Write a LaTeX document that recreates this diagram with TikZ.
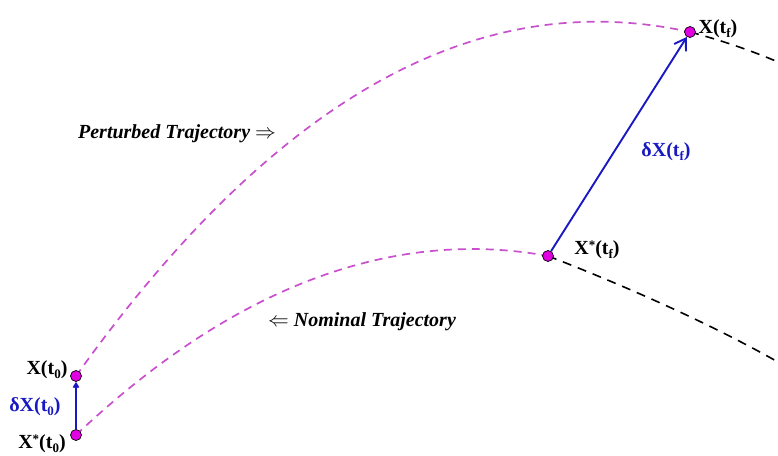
\documentclass[tikz,border=0pt]{standalone}
\usepackage{fontspec}
\setmainfont{Liberation Serif}
\usetikzlibrary{arrows.meta}
\definecolor{trajmag}{RGB}{200,80,205}
\definecolor{dotmag}{RGB}{225,0,225}
\definecolor{vecblue}{RGB}{25,25,195}
\newcommand{\mysub}[1]{\raisebox{-0.4ex}{\fontsize{13}{13}\selectfont #1}}
\newcommand{\mystar}{\raisebox{0.55ex}{\fontsize{13}{13}\selectfont *}}
\begin{document}
\begin{tikzpicture}[x=1pt,y=-1pt,
  pert/.style={draw=trajmag,line width=1.7pt,dash pattern=on 8pt off 6pt},
  cont/.style={draw=black,line width=1.6pt,dash pattern=on 9pt off 7pt},
  statedot/.style={circle,draw=black,line width=0.7pt,fill=dotmag,minimum size=11pt,inner sep=0pt},
  dvec/.style={draw=vecblue,line width=1.9pt},
  lab/.style={font=\fontsize{20}{24}\selectfont\bfseries,inner sep=0pt},
  blab/.style={lab,text=vecblue},
  tlab/.style={font=\fontsize{20}{24}\selectfont\bfseries\itshape,inner sep=0pt}]
\useasboundingbox (0,0) rectangle (778,455);
% state points
\coordinate (n0) at (76,435);
\coordinate (p0) at (76,376);
\coordinate (nf) at (548,256);
\coordinate (pf) at (690,32);
\coordinate (nend) at (778,362);
\coordinate (pend) at (778,62);
% trajectories
\draw[pert] (n0) .. controls (256,265) and (418,232) .. (nf);
\draw[cont] (nf) .. controls (610,280) and (700,318) .. (nend);
\draw[pert] (p0) .. controls (286,82) and (490,-12) .. (pf);
\draw[cont] (pf) .. controls (720,40) and (750,50) .. (pend);
% dots
\node[statedot] (N0) at (n0) {};
\node[statedot] (P0) at (p0) {};
\node[statedot] (NF) at (nf) {};
\node[statedot] (PF) at (pf) {};
% deviation vectors
\draw[dvec,-{Straight Barb[length=4pt,width=5pt]}] (N0) -- (P0);
\draw[dvec,-{Straight Barb[length=11pt,width=14pt]}] (NF) -- (PF);
% labels
\node[lab] (lpf) at (718,29) {X(t\mysub{f})};
\node[lab] (lnf) at (597,250) {X\mystar(t\mysub{f})};
\node[lab] (lp0) at (47,370) {X(t\mysub{0})};
\node[blab] (ld0) at (35,407) {δX(t\mysub{0})};
\node[lab] (ln0) at (42,444) {X\mystar(t\mysub{0})};
\node[blab] (ldf) at (666,152) {δX(t\mysub{f})};
\node[tlab] (lpert) at (177,134) {Perturbed Trajectory $\Rightarrow$};
\node[tlab] (lnom) at (362,322) {$\Leftarrow$ Nominal Trajectory};
\end{tikzpicture}
\end{document}
